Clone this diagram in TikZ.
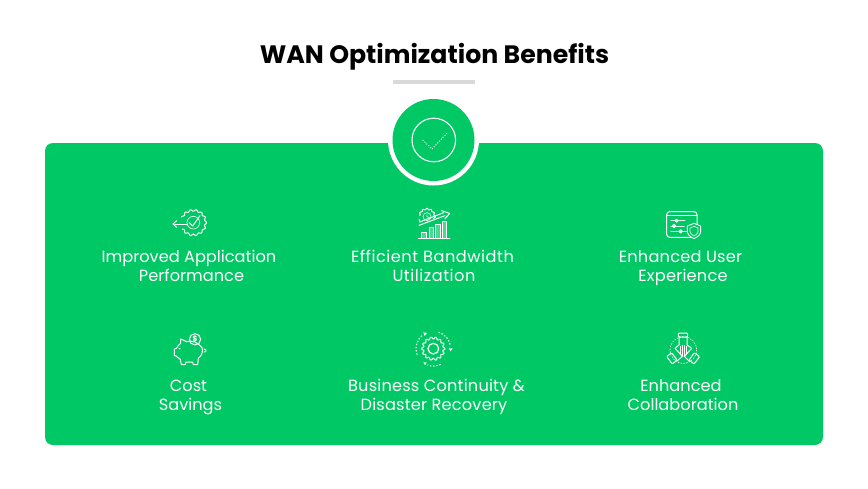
\documentclass[tikz,border=0pt]{standalone}
\usepackage{fontspec}
\setmainfont{Poppins}
\definecolor{wangreen}{HTML}{00C864}
\definecolor{bargrey}{HTML}{D9D9D9}
\tikzset{
  lbl/.style={text=white,font=\fontsize{16.2}{19}\selectfont,align=center,inner sep=0pt,anchor=base},
  ic/.style={draw=white,line width=1pt,line join=round,line cap=round},
  thin ic/.style={draw=white!85!wangreen,line width=0.7pt,line join=round,line cap=round},
  bar ic/.style={draw=white,fill=white,fill opacity=0.3,line width=0.8pt,line join=round},
  zoomed/.style={shift={#1},x=0.3333pt,y=-0.3333pt}
}
\begin{document}
\begin{tikzpicture}[x=1pt,y=-1pt]
\useasboundingbox (0,0) rectangle (868,488);
\fill[white] (0,0) rectangle (868,488);
\node[font=\fontsize{25.2}{28}\selectfont\bfseries,text=black,inner sep=0pt,anchor=base] (title) at (434.5,63) {WAN Optimization Benefits};
\fill[bargrey] (393,80) rectangle (475,84);
\fill[wangreen,rounded corners=8pt] (45,143) rectangle (823,445);
\fill[white] (433.5,140) circle[radius=45.5];
\fill[white] (388,100) rectangle (479,143);
\fill[wangreen] (433.5,140) circle[radius=41];
\draw[white,line width=1.1pt] (433.8,140) circle[radius=21.8];
\draw[white,line width=0.9pt,dash pattern=on 1pt off 1.6pt] (422.7,140) -- (432,149) -- (447.3,132.7);
% labels
\node[lbl] (l1) at (189,281) {Improved Application\\\hspace*{5pt}Performance};
\node[lbl,font=\fontsize{16.2}{19}\selectfont\addfontfeature{LetterSpace=3.2}] (l2) at (432.5,281) {Efficient Bandwidth\\\hspace*{3pt}Utilization};
\node[lbl,font=\fontsize{16.2}{19}\selectfont\addfontfeature{LetterSpace=1.3}] (l3) at (682,281) {Enhanced User\hspace*{3pt}\\\hspace*{2pt}Experience};
\node[lbl] (l4) at (190.5,410) {Cost\hspace*{4pt}\\Savings};
\node[lbl,font=\fontsize{16.2}{19}\selectfont\addfontfeature{LetterSpace=1.1}] (l5) at (436.5,410) {Business Continuity \&\\Disaster Recovery\hspace*{5pt}};
\node[lbl] (l6) at (683,410) {Enhanced\hspace*{4pt}\\Collaboration};
% icon 1
\begin{scope}[zoomed={(160,200)}]
\draw[ic] plot[smooth,samples=120,domain=205:510,variable=\t] ({100+(37+2.6*cos(14*\t))*cos(\t)},{68+(37+2.6*cos(14*\t))*sin(\t)});
\draw[thin ic] (100,68) circle[radius=19];
\draw[ic] (88,68) -- (98,78) -- (120,47);
\draw[ic] (44,72) -- (82,72);
\draw[ic] (50,62) -- (39,72) -- (50,82);
\end{scope}
% icon 2
\begin{scope}[zoomed={(405,200)}]
\draw[ic] plot[smooth,samples=90,domain=-20:170,variable=\t] ({66+(23+2*cos(12*\t))*cos(\t)},{50+(23+2*cos(12*\t))*sin(-\t)});
\draw[ic] (42,58) -- (46,66);
\draw[thin ic] (66,50) circle[radius=12];
\draw[thin ic] (66,44) -- (66,50) -- (73,53);
\draw[ic] (42,76) -- (120,47);
\draw[ic] (44,66) -- (116,38);
\draw[ic] (110,32) -- (134,40) -- (120,56);
\path[bar ic] (50,115) -- (50,96) -- (64,96) -- (64,115);
\path[bar ic] (72,115) -- (72,82) -- (86,82) -- (86,115);
\path[bar ic] (92,115) -- (92,72) -- (106,72) -- (106,115);
\path[bar ic] (112,115) -- (112,65) -- (124,65) -- (124,115);
\draw[ic] (40,115) -- (135,115);
\end{scope}
% icon 3
\begin{scope}[zoomed={(655,200)}]
\draw[ic,rounded corners=3pt] (35,35) rectangle (126,112);
\draw[ic] (35,46) -- (126,46);
\draw[thin ic] (47,62) -- (90,62);
\draw[ic] (65,62) circle[radius=4.5];
\draw[thin ic] (47,78) -- (88,78);
\draw[ic] (57,78) circle[radius=5];
\draw[thin ic] (47,94) -- (95,94);
\draw[ic] (77,94) circle[radius=5];
\path[fill=wangreen,draw=white,line width=0.9pt,line join=round] (117,70) -- (137,78) -- (137,95) .. controls (137,105) and (125,112) .. (117,116) .. controls (109,112) and (97,105) .. (97,95) -- (97,78) -- cycle;
\draw[thin ic] (117,79) -- (129,84) -- (129,95) .. controls (129,101) and (122,105) .. (117,108) .. controls (112,105) and (105,101) .. (105,95) -- (105,84) -- cycle;
\end{scope}
% icon 4
\begin{scope}[zoomed={(160,325)}]
\draw[ic] (62,55) -- (62,42) -- (80,50) .. controls (95,45) and (115,52) .. (126,68) .. controls (130,80) and (125,92) .. (115,100) -- (113,119) -- (100,119) -- (98,111) -- (78,111) -- (76,119) -- (64,119) -- (61,103) .. controls (55,100) and (52,95) .. (48,93) -- (43,92) -- (43,72) -- (50,70) .. controls (52,64) and (57,59) .. (62,55) -- cycle;
\draw[ic] (132,72) .. controls (140,72) and (140,82) .. (132,81);
\draw[ic] (59,71) circle[radius=1];
\draw[ic] (105,43) circle[radius=17];
\node[text=white,font=\fontsize{7.5}{8}\selectfont\bfseries,inner sep=0pt] (coin) at (105,43) {\$};
\end{scope}
% icon 5
\begin{scope}[zoomed={(405,325)}]
\draw[ic] plot[smooth,samples=180,domain=0:360,variable=\t] ({85+(32+3*cos(14*\t))*cos(\t)},{71+(32+3*cos(14*\t))*sin(\t)});
\draw[ic,line width=1.2pt] (85,71) circle[radius=16];
\draw[white,line width=1.1pt,dash pattern=on 1.4pt off 1.8pt] (85,71) ++(-72:52) arc[start angle=-72,end angle=-10,radius=52];
\draw[white,line width=1.1pt,dash pattern=on 1.4pt off 1.8pt] (85,71) ++(65:52) arc[start angle=65,end angle=110,radius=52];
\draw[white,line width=1.1pt,dash pattern=on 1.4pt off 1.8pt] (85,71) ++(160:52) arc[start angle=160,end angle=230,radius=52];
\fill[white] (55,22) -- (66,24) -- (59,33) -- cycle;
\fill[white] (131,70) -- (143,70) -- (137,79) -- cycle;
\fill[white] (55,112) -- (65,112) -- (60,121) -- cycle;
\end{scope}
% icon 6
\begin{scope}[zoomed={(655,325)}]
\draw[ic,line width=0.7pt,dash pattern=on 1pt off 1.8pt] (85,75) circle[radius=40];
\draw[ic,rounded corners=1pt] (70,24) rectangle (98,36);
\draw[ic] (72,36) -- (72,60) -- (62,68);
\draw[ic] (96,36) -- (96,60) -- (108,68);
\draw[ic] (76,64) -- (76,88);
\draw[ic] (82,62) -- (82,92);
\draw[ic] (88,62) -- (88,92);
\draw[ic] (94,64) -- (94,88);
\draw[ic] (60,70) -- (82,94) -- (66,108);
\draw[ic] (110,70) -- (88,94) -- (102,108);
\draw[ic,rounded corners=1pt] (35,95) -- (50,83) -- (66,105) -- (52,117) -- cycle;
\draw[ic,rounded corners=1pt] (134,95) -- (118,83) -- (102,105) -- (117,117) -- cycle;
\end{scope}
\end{tikzpicture}
\end{document}
